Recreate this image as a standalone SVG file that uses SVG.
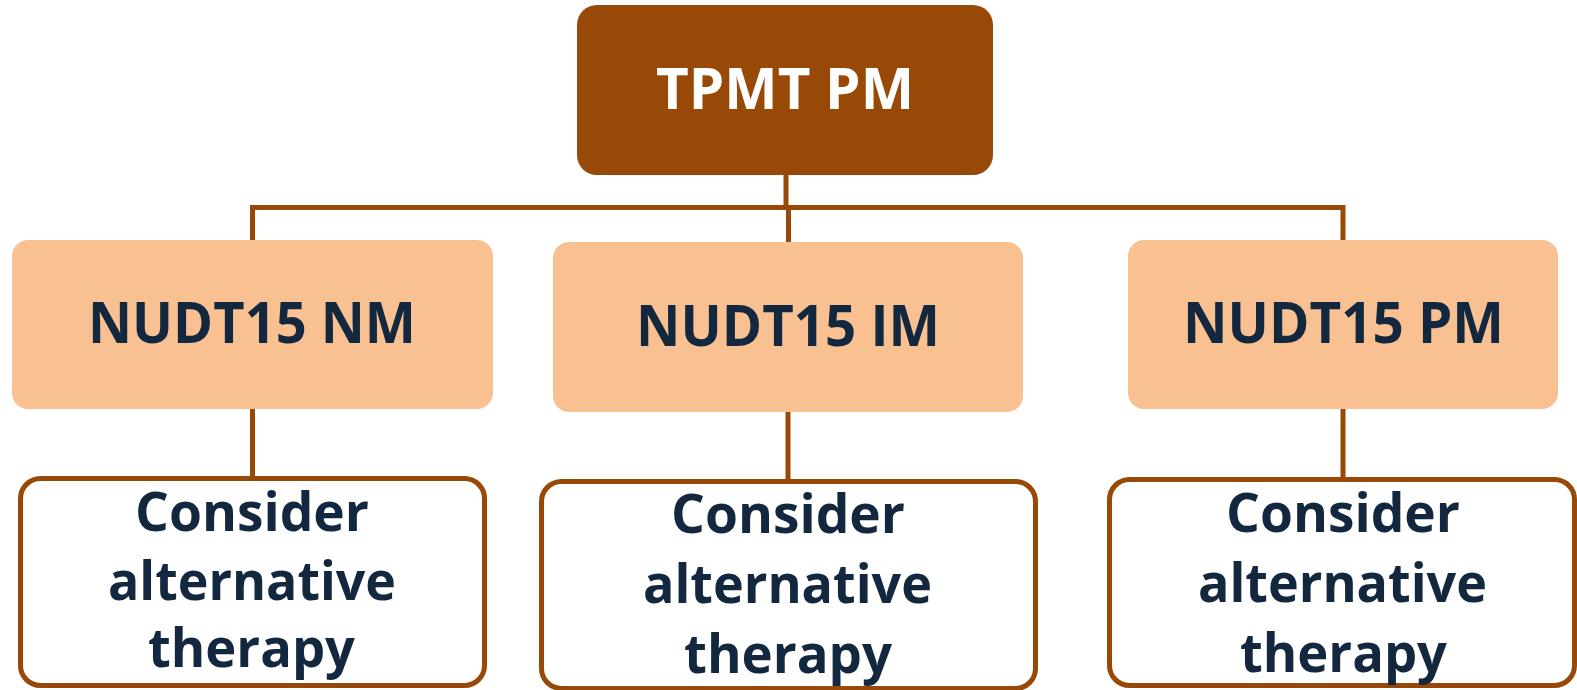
<svg xmlns="http://www.w3.org/2000/svg" width="1577" height="690" viewBox="0 0 1577 690">
<style>
.top{fill:#984807}
.mid{fill:#F9C192}
.leaf{fill:#FFFFFF;stroke:#984807;stroke-width:5}
.con{fill:none;stroke:#984807;stroke-width:5}
text{font-family:"Open Sans","Noto Sans",sans-serif;font-weight:bold;text-anchor:middle}
.tw{fill:#FFFFFF;font-size:57px}
.tn{fill:#13273F;font-size:57px}
.tl{fill:#13273F;font-size:54px}
</style>
<rect width="1577" height="690" fill="#FFFFFF"/>
<g id="connectors">
<path class="con" d="M786,175 V207.5"/>
<path class="con" d="M252.5,241 V207.5 H1343 V241"/>
<path class="con" d="M788.5,207.5 V243"/>
<path class="con" d="M252.5,408 V478"/>
<path class="con" d="M788,411 V481"/>
<path class="con" d="M1343,408 V479"/>
</g>
<g id="tpmt-pm">
<rect class="top" x="577" y="5" width="416" height="170" rx="20"/>
<text class="tw" x="785" y="109" textLength="258" lengthAdjust="spacingAndGlyphs">TPMT PM</text>
</g>
<g id="nudt15-nm">
<rect class="mid" x="12" y="240" width="481" height="169" rx="16"/>
<text class="tn" x="252" y="343" textLength="328" lengthAdjust="spacingAndGlyphs">NUDT15 NM</text>
</g>
<g id="nudt15-im">
<rect class="mid" x="553" y="242" width="470" height="170" rx="16"/>
<text class="tn" x="788" y="346" textLength="304" lengthAdjust="spacingAndGlyphs">NUDT15 IM</text>
</g>
<g id="nudt15-pm">
<rect class="mid" x="1128" y="240" width="430" height="169" rx="16"/>
<text class="tn" x="1343.5" y="343" textLength="321" lengthAdjust="spacingAndGlyphs">NUDT15 PM</text>
</g>
<g id="alt-nm">
<rect class="leaf" x="20.5" y="478.5" width="464" height="207" rx="20"/>
<text class="tl" x="252" y="531" textLength="234" lengthAdjust="spacingAndGlyphs">Consider</text>
<text class="tl" x="252" y="600" textLength="288" lengthAdjust="spacingAndGlyphs">alternative</text>
<text class="tl" x="251.5" y="667" textLength="207" lengthAdjust="spacingAndGlyphs">therapy</text>
</g>
<g id="alt-im">
<rect class="leaf" x="541.5" y="481.5" width="494" height="207" rx="20"/>
<text class="tl" x="788" y="533" textLength="234" lengthAdjust="spacingAndGlyphs">Consider</text>
<text class="tl" x="787.5" y="603" textLength="289" lengthAdjust="spacingAndGlyphs">alternative</text>
<text class="tl" x="788" y="673" textLength="208" lengthAdjust="spacingAndGlyphs">therapy</text>
</g>
<g id="alt-pm">
<rect class="leaf" x="1109.5" y="479.5" width="465" height="206" rx="20"/>
<text class="tl" x="1343" y="532" textLength="234" lengthAdjust="spacingAndGlyphs">Consider</text>
<text class="tl" x="1342.5" y="602" textLength="289" lengthAdjust="spacingAndGlyphs">alternative</text>
<text class="tl" x="1343.5" y="672" textLength="207" lengthAdjust="spacingAndGlyphs">therapy</text>
</g>
</svg>
